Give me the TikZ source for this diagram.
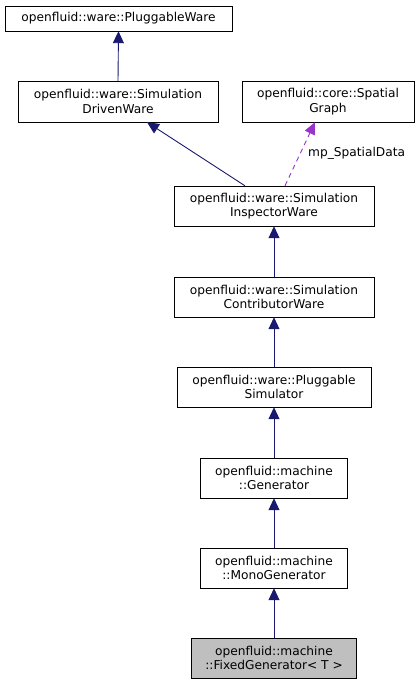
\documentclass[tikz,border=0pt]{standalone}
\usepackage{fontspec}
\setmainfont{DejaVu Sans}
\usetikzlibrary{arrows.meta}
\definecolor{edgeblue}{HTML}{191970}
\definecolor{edgepurple}{HTML}{9A32CD}
\definecolor{boxgray}{HTML}{BFBFBF}
\tikzset{
	cls/.style={draw=black,fill=white,align=center,inner sep=0pt,font=\fontsize{12.2}{14.5}\selectfont},
	clsfocus/.style={cls,fill=boxgray},
	inherit/.style={edgeblue,line width=0.9pt,-{Triangle[length=12pt,width=11pt]}},
	usage/.style={edgepurple,line width=0.9pt,dash pattern=on 5pt off 4pt,-{Triangle[length=12pt,width=11pt]}},
	edgelabl/.style={font=\fontsize{12.2}{14.5}\selectfont,inner sep=0pt},
}

\begin{document}
\begin{tikzpicture}[x=1pt,y=-1pt]
\useasboundingbox (0,0) rectangle (419,685);
%NODI
\node[cls,minimum width=227pt,minimum height=25pt] (pw) at (118.5,18.5) {openfluid::ware::PluggableWare};
\node[cls,minimum width=200pt,minimum height=41pt] (sdw) at (118,101.5) {openfluid::ware::Simulation\\DrivenWare};
\node[cls,minimum width=172pt,minimum height=41pt] (sg) at (328,101.5) {openfluid::core::Spatial\\Graph};
\node[cls,minimum width=200pt,minimum height=40pt] (siw) at (274,206) {openfluid::ware::Simulation\\InspectorWare};
\node[cls,minimum width=200pt,minimum height=40pt] (scw) at (274,297) {openfluid::ware::Simulation\\ContributorWare};
\node[cls,minimum width=194pt,minimum height=40pt] (ps) at (274,387) {openfluid::ware::Pluggable\\Simulator};
\node[cls,minimum width=147pt,minimum height=40pt] (gen) at (274,478) {openfluid::machine\\::Generator};
\node[cls,minimum width=147pt,minimum height=40pt] (mgen) at (274,568) {openfluid::machine\\::MonoGenerator};
\node[clsfocus,minimum width=165pt,minimum height=40pt] (fgen) at (274,658) {openfluid::machine\\::FixedGenerator< T >};
%EREDITARIETA
\draw[inherit] (sdw.north) -- (pw.south);
\draw[inherit] (siw.north -| 245,0) -- (sdw.south -| 147,0);
\draw[inherit] (scw) -- (siw);
\draw[inherit] (ps) -- (scw);
\draw[inherit] (gen) -- (ps);
\draw[inherit] (mgen) -- (gen);
\draw[inherit] (fgen) -- (mgen);
% USO
\draw[usage] (siw.north -| 285,0) -- (sg.south -| 315,0);
\node[edgelabl,anchor=west] (lsd) at (308,153) {mp\_SpatialData};
\end{tikzpicture}
\end{document}
